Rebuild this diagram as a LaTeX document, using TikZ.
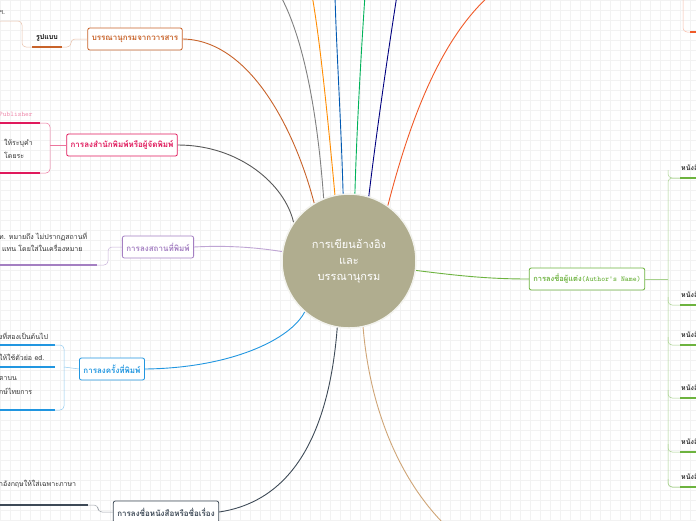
\documentclass[tikz,border=0pt]{standalone}
\usepackage{fontspec}
\usepackage{tikz}
\usetikzlibrary{arrows.meta}
\newfontfamily\thai[Script=Thai]{Loma}
\definecolor{hubfill}{HTML}{B0AD8F}
\definecolor{jourclr}{HTML}{C8632A}
\definecolor{pubclr}{HTML}{E0195C}
\definecolor{placeclr}{HTML}{A47FC2}
\definecolor{edclr}{HTML}{2196E0}
\definecolor{titleclr}{HTML}{3E4A57}
\definecolor{authclr}{HTML}{6DB33F}
\definecolor{gridclr}{HTML}{F2F2F2}
\definecolor{tanclr}{HTML}{CFA577}
\definecolor{redclr}{HTML}{F05A28}
\begin{document}
\begin{tikzpicture}[x=1pt,y=-1pt,font=\thai\fontsize{7}{9}\selectfont]
\tikzstyle{topic}=[draw, thick, rounded corners=2pt, fill=white, inner sep=4pt, minimum height=22pt, font=\thai\bfseries\fontsize{8}{10}\selectfont]
\tikzstyle{branch}=[line width=0.9pt]
\tikzstyle{twig}=[line width=0.5pt, rounded corners=4pt]
\tikzstyle{bar}=[line width=1.6pt]
\tikzstyle{leaf}=[anchor=west, inner sep=1pt, text=black!80]

% Background grid
\clip (0,0) rectangle (696,520);
\fill[white] (0,0) rectangle (696,520);
\draw[gridclr, step=10pt] (0,0) grid (696,520);

\node[circle, fill=hubfill, draw=white!85!hubfill, line width=1.5pt, minimum size=134pt, text=white, align=center, font=\thai\fontsize{11}{16}\selectfont] (hub) at (349,261) {การเขียนอ้างอิง\\และ\\บรรณานุกรม};

% Top branches
\coordinate (t1) at (280,-5); \coordinate (t2) at (312,-5); \coordinate (t3) at (335,-5);
\coordinate (t4) at (365,-5); \coordinate (t5) at (397,-5); \coordinate (t6) at (490,-5);
\draw[branch, gray] (hub.112) .. controls (318,120) and (305,40) .. (t1);
\draw[branch, orange!90!yellow] (hub.102) .. controls (328,120) and (320,40) .. (t2);
\draw[branch, blue!50!cyan!70!black] (hub.95) .. controls (341,120) and (336,40) .. (t3);
\draw[branch, green!50!cyan!70!black] (hub.85) .. controls (357,120) and (362,40) .. (t4);
\draw[branch, blue!50!black] (hub.73) .. controls (378,120) and (390,40) .. (t5);
\draw[branch, redclr] (hub.55) .. controls (410,120) and (440,40) .. (t6);
\draw[twig, redclr!40] (683,-5) -- (683,32) -- (696,32);
\draw[bar, redclr] (690,32) -- (696,32);

% Left topics
\node[topic, draw=jourclr, text=jourclr] (journal) at (135,39) {บรรณานุกรมจากวารสาร};
\draw[branch, jourclr] (journal.east) .. controls (250,40) and (295,130) .. (hub.121);
\node[font=\thai\bfseries\fontsize{7}{9}\selectfont] (form) at (47,38) {รูปแบบ};
\draw[bar, jourclr] (32,47) -- (62,47);
\draw[twig, jourclr!40] (journal.west) -- (71,39) -- (71,47) -- (62,47);
\draw[twig, jourclr!40] (32,47) -- (22,47) -- (22,21) -- (0,21);
\node[leaf] (jleaf) at (-2,13) {ฯ.};

\node[topic, draw=pubclr, text=pubclr] (publisher) at (122,145) {การลงสำนักพิมพ์หรือผู้จัดพิมพ์};
\draw[branch, black!65] (publisher.east) .. controls (240,145) and (285,185) .. (hub.145);
\draw[twig, pubclr!60] (publisher.west) -- (50,145);
\draw[twig, pubclr!60] (40,123) -- (50,123) -- (50,173) -- (40,173);
\draw[bar, pubclr] (0,123) -- (40,123);
\draw[bar, pubclr] (0,173) -- (40,173);
\node[leaf, text=pubclr!50, font=\ttfamily\fontsize{7}{8}\selectfont] (pubname) at (-2,114) {Publisher};
\node[leaf] (pleaf1) at (3,143) {ให้ระบุคำ};
\node[leaf] (pleaf2) at (3,155) {โดยระ};

\node[topic, draw=placeclr, text=placeclr] (place) at (158,247) {การลงสถานที่พิมพ์};
\draw[branch, placeclr!70] (place.east) .. controls (230,245) and (260,248) .. (hub.172);
\draw[twig, placeclr!60] (place.west) -- (108,247) -- (108,265) -- (97,265);
\draw[bar, placeclr] (0,265) -- (97,265);
\node[leaf] (plleaf1) at (-2,237) {ท.  หมายถึง  ไม่ปรากฏสถานที่};
\node[leaf] (plleaf2) at (1,248) {แทน  โดยใส่ในเครื่องหมาย};

\node[topic, draw=edclr, text=edclr] (edition) at (112,369) {การลงครั้งที่พิมพ์};
\draw[branch, edclr] (edition.east) .. controls (230,368) and (290,340) .. (hub.229);
\draw[twig, edclr!50] (edition.west) -- (64,367);
\draw[twig, edclr!50] (55,345) -- (64,345) -- (64,410) -- (55,410);
\draw[bar, edclr] (0,345) -- (55,345);
\draw[bar, edclr] (0,367) -- (55,367);
\draw[bar, edclr] (0,410) -- (55,410);
\node[leaf] (eleaf1) at (-2,336) {งที่สองเป็นต้นไป};
\node[leaf] (eleaf2) at (-2,357) {ให้ใช้ตัวย่อ  ed.};
\node[leaf] (eleaf3) at (-2,379) {ตาบน};
\node[leaf] (eleaf4) at (-2,391) {ักษ์ไทยการ};

\node[topic, draw=titleclr, text=titleclr] (booktitle) at (166,512) {การลงชื่อหนังสือหรือชื่อเรื่อง};
\draw[branch, titleclr] (booktitle.east) .. controls (300,500) and (330,420) .. (hub.260);
\draw[twig, titleclr!50] (booktitle.west) -- (98,512) -- (98,505) -- (88,505);
\draw[bar, titleclr] (0,505) -- (88,505);
\node[leaf] (tleaf) at (-2,484) {าอังกฤษให้ใส่เฉพาะภาษา};

% Bottom branch
\coordinate (bt) at (445,525);
\draw[branch, tanclr] (hub.282) .. controls (370,410) and (400,480) .. (bt);

% Right topic
\node[topic, draw=authclr, text=authclr, font=\ttfamily\bfseries\fontsize{7.5}{9}\selectfont] (author) at (587,279) {\thai การลงชื่อผู้แต่ง\ttfamily(Author's Name)};
\draw[branch, authclr] (hub.-8) .. controls (460,276) and (490,279) .. (author.west);
\draw[twig, authclr!60] (author.east) -- (668,279);
\draw[twig, authclr!60] (680,178) -- (668,178) -- (668,487) -- (680,487);
\foreach \yy in {178,305,345,398,452,487} {
  \draw[twig, authclr!60] (668,\yy-8) -- (668,\yy) -- (680,\yy);
  \draw[bar, authclr] (680,\yy) -- (700,\yy);
  \node[leaf, font=\thai\bfseries\fontsize{7}{9}\selectfont] at (680,\yy-10) {หนังสือ};
}
\end{tikzpicture}
\end{document}
